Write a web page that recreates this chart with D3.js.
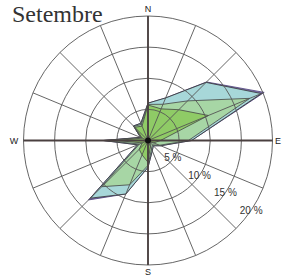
<!DOCTYPE html>
<html>
<head>
<meta charset="utf-8">
<script src="https://cdn.jsdelivr.net/npm/d3@7"></script>
<style>
  body { margin: 0; background: #fff; }
  svg { display: block; }
</style>
</head>
<body>
<div id="chart"></div>
<script>
// data, 16 directions clockwise from N (cumulative %)
const directions = ['N', 'NNE', 'NE', 'ENE', 'E', 'ESE', 'SE', 'SSE', 'S', 'SSW', 'SW', 'WSW', 'W', 'WNW', 'NW', 'NNW'];
const outerVals = [6.0, 7.4, 13.3, 20.2, 7.0, 2.2, 1.2, 1.8, 4.3, 9.3, 13.5, 1.8, 7.2, 1.3, 3.3, 3.0];
const blueVals  = [6.0, 7.4, 13.2, 19.7, 7.0, 2.2, 1.2, 1.8, 4.3, 9.3, 13.1, 1.8, 7.2, 1.3, 3.3, 3.0];
const midVals   = [5.8, 6.3, 9.0, 17.7, 6.5, 2.0, 1.0, 1.5, 4.0, 7.7, 10.5, 1.5, 7.0, 1.2, 3.2, 2.8];
const innerVals = [5.7, 5.5, 7.0, 10.5, 2.0, 1.0, 0.5, 1.0, 3.5, 2.5, 2.0, 1.0, 5.0, 1.0, 3.0, 2.5];
const rings = [5, 10, 15, 20];
const ringLabels = ['5 %', '10 %', '15 %', '20 %'];
const cardinals = ['N', 'E', 'S', 'W'];

const chart = { width: 285, height: 278, cx: 148, cy: 140.5, radius: 124.5 };

const svg = d3.select('#chart')
    .append('svg')
    .attr('width', chart.width)
    .attr('height', chart.height);

svg.append('text')
    .attr('x', 12)
    .attr('y', 21.5)
    .attr('font-family', '"Liberation Serif", "Times New Roman", serif')
    .attr('font-size', 24)
    .attr('fill', '#333')
    .text('Setembre');

const rScale = d3.scaleLinear()
    .domain([0, 20])
    .range([0, chart.radius]);

const angle = d3.scalePoint()
    .domain(directions)
    .range([0, 2 * Math.PI * 15 / 16]);

const g = svg.append('g')
    .attr('transform', `translate(${chart.cx}, ${chart.cy})`);

// polygons
const radial = d3.lineRadial()
    .curve(d3.curveLinearClosed)
    .angle(d => angle(d.dir))
    .radius(d => rScale(d.v));

const series = [
    { vals: outerVals, fill: '#7a6aa8', stroke: '#4a3f78' },
    { vals: blueVals,  fill: '#a9dcdb', stroke: '#333' },
    { vals: midVals,   fill: '#a6d6a2', stroke: '#444' },
    { vals: innerVals, fill: '#8dca62', stroke: '#444' }
];

g.append('g')
    .classed('areas', true)
    .selectAll('path')
    .data(series)
    .enter()
    .append('path')
    .attr('d', s => radial(s.vals.map((v, i) => ({ dir: directions[i], v: v }))))
    .attr('fill', s => s.fill)
    .attr('fill-opacity', 0.95)
    .attr('stroke', s => s.stroke)
    .attr('stroke-width', 0.8)
    .attr('stroke-linejoin', 'round');

// grid on top
const grid = g.append('g').classed('grid', true);

grid.selectAll('circle')
    .data(rings)
    .enter()
    .append('circle')
    .attr('r', d => rScale(d))
    .attr('fill', 'none')
    .attr('stroke', '#555')
    .attr('stroke-width', 0.9);

grid.selectAll('line.spoke')
    .data(directions)
    .enter()
    .append('line')
    .classed('spoke', true)
    .attr('x1', 0)
    .attr('y1', 0)
    .attr('x2', d => rScale(20) * Math.sin(angle(d)))
    .attr('y2', d => -rScale(20) * Math.cos(angle(d)))
    .attr('stroke', '#555')
    .attr('stroke-width', 0.9);

grid.selectAll('line.axis')
    .data(cardinals)
    .enter()
    .append('line')
    .classed('axis', true)
    .attr('x1', 0)
    .attr('y1', 0)
    .attr('x2', d => rScale(20) * Math.sin(angle(d)))
    .attr('y2', d => -rScale(20) * Math.cos(angle(d)))
    .attr('stroke', '#4a4040')
    .attr('stroke-width', 1.8);

g.append('circle')
    .attr('r', 3)
    .attr('fill', '#111');

// cardinal labels
const labelOffset = { N: 131.5, E: 130, S: 131, W: 134 };
g.selectAll('text.card')
    .data(cardinals)
    .enter()
    .append('text')
    .classed('card', true)
    .attr('x', d => labelOffset[d] * Math.sin(angle(d)))
    .attr('y', d => -labelOffset[d] * Math.cos(angle(d)))
    .attr('dy', '0.35em')
    .attr('text-anchor', 'middle')
    .attr('font-family', '"Liberation Sans", Arial, sans-serif')
    .attr('font-size', 9)
    .attr('fill', '#222')
    .text(d => d);

// ring labels
const labelAngle = 124 * Math.PI / 180;
g.selectAll('text.ring')
    .data(rings)
    .enter()
    .append('text')
    .classed('ring', true)
    .attr('x', (d, i) => rScale(d) * Math.sin(labelAngle) - (i === 0 ? 1 : 0))
    .attr('y', d => -rScale(d) * Math.cos(labelAngle))
    .attr('dy', '0.35em')
    .attr('text-anchor', 'middle')
    .attr('font-family', '"Liberation Sans", Arial, sans-serif')
    .attr('font-size', 10)
    .attr('fill', '#333')
    .text((d, i) => ringLabels[i]);
</script>
</body>
</html>
